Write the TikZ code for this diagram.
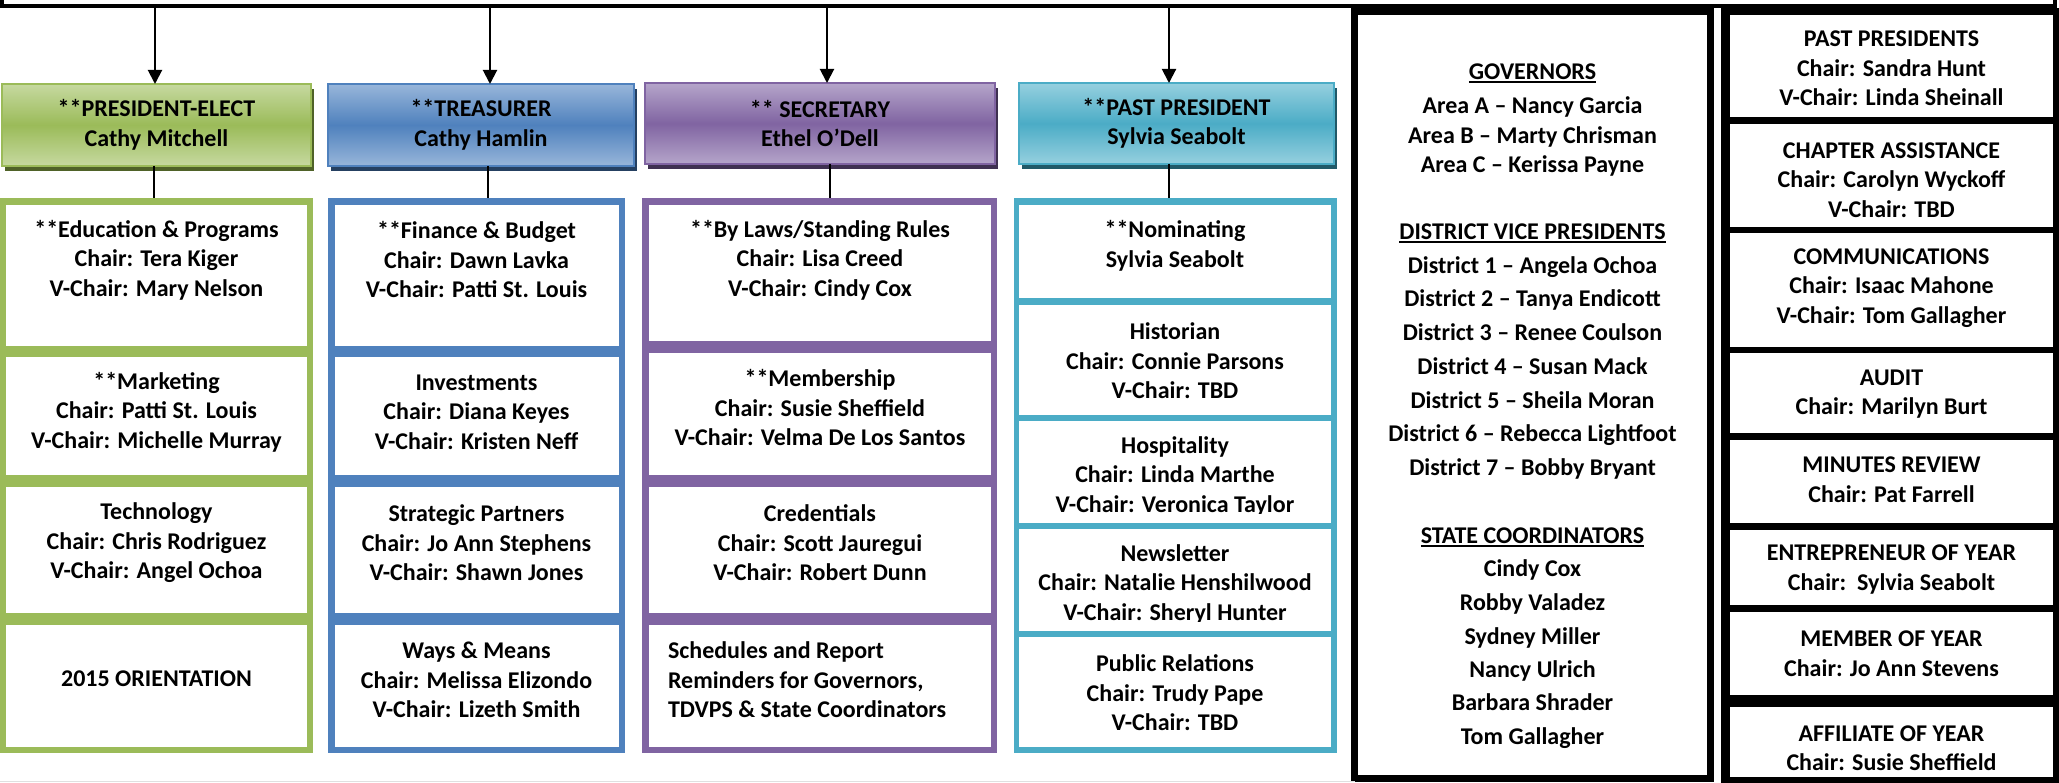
\documentclass[tikz,border=0pt]{standalone}
\usepackage{fontspec}
\setmainfont{Carlito}
\usetikzlibrary{arrows.meta,shadows}
\definecolor{gM}{HTML}{9BBB59}\definecolor{gL}{HTML}{C6D9A0}\definecolor{gD}{HTML}{4F6228}
\definecolor{bM}{HTML}{4F81BD}\definecolor{bL}{HTML}{98B6DA}\definecolor{bD}{HTML}{254061}
\definecolor{pM}{HTML}{8064A2}\definecolor{pL}{HTML}{B5A5CA}\definecolor{pD}{HTML}{3F3151}
\definecolor{tM}{HTML}{4BACC6}\definecolor{tL}{HTML}{96D0DF}\definecolor{tD}{HTML}{215968}
\newcommand\myfont{\bfseries\fontsize{24}{29.5}\selectfont}
\newcommand\myul[1]{\setbox0\hbox{#1}\rlap{\rule[-3.5pt]{\wd0}{1.8pt}}\box0}
\newcommand\mkbox[7]{%
  \pgfmathsetmacro\bcx{(#3+#5)/2}%
  \pgfmathsetmacro\bcy{(#4+#6)/2}%
  \pgfmathsetmacro\bw{#5-#3}%
  \pgfmathsetmacro\bh{#6-#4}%
  \node[#1, minimum width=\bw pt, minimum height=\bh pt] (#2) at (\bcx,\bcy) {#7};}
\begin{document}
\begin{tikzpicture}[x=1pt,y=-1pt,
  base/.style={rectangle, inner sep=0pt, outer sep=0pt},
  toprule/.style={base, draw=black, line width=4pt},
  hdr/.style={base, align=center, line width=1.5pt, font=\myfont},
  hdrG/.style={hdr, draw=gM, top color=gL, bottom color=gL, middle color=gM,
    drop shadow={shadow xshift=3pt, shadow yshift=-5pt, fill=gD, opacity=1}},
  hdrB/.style={hdr, draw=bM, top color=bL, bottom color=bL, middle color=bM,
    drop shadow={shadow xshift=3pt, shadow yshift=-5pt, fill=bD, opacity=1}},
  hdrP/.style={hdr, draw=pM, top color=pL, bottom color=pL, middle color=pM,
    drop shadow={shadow xshift=3pt, shadow yshift=-5pt, fill=pD, opacity=1}},
  hdrT/.style={hdr, draw=tM, top color=tL, bottom color=tL, middle color=tM,
    drop shadow={shadow xshift=3pt, shadow yshift=-5pt, fill=tD, opacity=1}},
  bgG/.style={base, fill=gM}, bgB/.style={base, fill=bM},
  bgP/.style={base, fill=pM}, bgT/.style={base, fill=tM},
  bgK/.style={base, fill=black},
  cell/.style={base, fill=white},
  govbox/.style={base, draw=black, line width=7pt, fill=white},
  txt/.style={base, align=center, font=\myfont},
  ltxt/.style={base, align=left, font=\myfont, anchor=west},
  gl/.style={base, font=\myfont, text height=18pt, text depth=6pt},
  arr/.style={line width=2pt, -{Triangle[length=14pt,width=14pt]}},
  conn/.style={line width=1.5pt}]
\useasboundingbox (0,0) rectangle (2059,783);
\clip (0,0) rectangle (2059,783);

% top box
\mkbox{toprule}{pres}{2}{-40}{2055}{6}{}

% headers
\mkbox{hdrG}{h1}{2}{84}{311}{166}{**PRESIDENT-ELECT\\Cathy Mitchell}
\mkbox{hdrB}{h2}{328}{84}{634}{166}{**TREASURER\\Cathy Hamlin}
\mkbox{hdrP}{h3}{645}{83}{995}{164}{** SECRETARY\\Ethel O’Dell}
\mkbox{hdrT}{h4}{1019}{83}{1334}{164}{**PAST PRESIDENT\\Sylvia Seabolt}

\coordinate (a1) at (155,0);
\coordinate (a2) at (490,0);
\coordinate (a3) at (827,0);
\coordinate (a4) at (1169,0);
\draw[arr] (pres.south -| a1) -- (h1.north -| a1);
\draw[arr] (pres.south -| a2) -- (h2.north -| a2);
\draw[arr] (pres.south -| a3) -- (h3.north -| a3);
\draw[arr] (pres.south -| a4) -- (h4.north -| a4);

% green column
\mkbox{bgG}{colG}{0}{198}{313}{753}{}
\mkbox{cell}{g1}{6}{205}{307}{346}{}
\mkbox{cell}{g2}{6}{357}{307}{475}{}
\mkbox{cell}{g3}{6}{487}{307}{613}{}
\mkbox{cell}{g4}{6}{625}{307}{747}{}
\node[txt] (g1t) at (156.5,260) {**Education \& Programs\\Chair: Tera Kiger\\V-Chair: Mary Nelson};
\node[txt] (g2t) at (156.5,412) {**Marketing\\Chair: Patti St. Louis\\V-Chair: Michelle Murray};
\node[txt] (g3t) at (156.5,543) {Technology\\Chair: Chris Rodriguez\\V-Chair: Angel Ochoa};
\node[txt] (g4t) at (156.5,679) {2015 ORIENTATION};

% blue column
\mkbox{bgB}{colB}{328}{198}{625}{753}{}
\mkbox{cell}{b1}{335}{205}{619}{346}{}
\mkbox{cell}{b2}{335}{357}{619}{475}{}
\mkbox{cell}{b3}{335}{487}{619}{613}{}
\mkbox{cell}{b4}{335}{625}{619}{747}{}
\node[txt] (b1t) at (476.5,260) {**Finance \& Budget\\Chair: Dawn Lavka\\V-Chair: Patti St. Louis};
\node[txt] (b2t) at (476.5,412) {Investments\\Chair: Diana Keyes\\V-Chair: Kristen Neff};
\node[txt] (b3t) at (476.5,543) {Strategic Partners\\Chair: Jo Ann Stephens\\V-Chair: Shawn Jones};
\node[txt] (b4t) at (476.5,680) {Ways \& Means\\Chair: Melissa Elizondo\\V-Chair: Lizeth Smith};

% purple column
\mkbox{bgP}{colP}{642}{198}{997}{753}{}
\mkbox{cell}{p1}{649}{205}{991}{341}{}
\mkbox{cell}{p2}{649}{353}{991}{475}{}
\mkbox{cell}{p3}{649}{487}{991}{613}{}
\mkbox{cell}{p4}{649}{625}{991}{747}{}
\node[txt] (p1t) at (820,260) {**By Laws/Standing Rules\\Chair: Lisa Creed\\V-Chair: Cindy Cox};
\node[txt] (p2t) at (820,408) {**Membership\\Chair: Susie Sheffield\\V-Chair: Velma De Los Santos};
\node[txt] (p3t) at (820,543) {Credentials\\Chair: Scott Jauregui\\V-Chair: Robert Dunn};
\node[ltxt] (p4t) at (668,680) {Schedules and Report\\Reminders for Governors,\\TDVPS \& State Coordinators};

% teal column
\mkbox{bgT}{colT}{1014}{198}{1337}{753}{}
\mkbox{cell}{t1}{1019}{205}{1331}{298}{}
\mkbox{cell}{t2}{1019}{305}{1331}{415}{}
\mkbox{cell}{t3}{1019}{421}{1331}{523}{}
\mkbox{cell}{t4}{1019}{529}{1331}{631}{}
\mkbox{cell}{t5}{1019}{637}{1331}{747}{}
\node[txt] (t1t) at (1175,246) {**Nominating\\Sylvia Seabolt};
\node[txt] (t2t) at (1175,361) {Historian\\Chair: Connie Parsons\\V-Chair: TBD};
\begin{scope}
\clip (1019,421) rectangle (1331,513);
\node[txt] (t3t) at (1175,476) {Hospitality\\Chair: Linda Marthe\\V-Chair: Veronica Taylor};
\end{scope}
\begin{scope}
\clip (1019,529) rectangle (1331,621);
\node[txt] (t4t) at (1175,584) {Newsletter\\Chair: Natalie Henshilwood\\V-Chair: Sheryl Hunter};
\end{scope}
\node[txt] (t5t) at (1175,693) {Public Relations\\Chair: Trudy Pape\\V-Chair: TBD};

% header to column connectors
\coordinate (c1) at (154,0);
\coordinate (c2) at (488,0);
\coordinate (c3) at (830,0);
\coordinate (c4) at (1169,0);
\draw[conn] (h1.south -| c1) -- (colG.north -| c1);
\draw[conn] (h2.south -| c2) -- (colB.north -| c2);
\draw[conn] (h3.south -| c3) -- (colP.north -| c3);
\draw[conn] (h4.south -| c4) -- (colT.north -| c4);

% governors box
\mkbox{govbox}{gov}{1354.5}{11.5}{1710.5}{778.5}{}
\foreach \yy/\gtext [count=\i] in {
  72/{\myul{GOVERNORS}},
  106/{Area A – Nancy Garcia},
  136/{Area B – Marty Chrisman},
  165/{Area C – Kerissa Payne},
  232/{\myul{DISTRICT VICE PRESIDENTS}},
  266/{District 1 – Angela Ochoa},
  299/{District 2 – Tanya Endicott},
  333/{District 3 – Renee Coulson},
  367/{District 4 – Susan Mack},
  401/{District 5 – Sheila Moran},
  434/{District 6 – Rebecca Lightfoot},
  468/{District 7 – Bobby Bryant},
  536/{\myul{STATE COORDINATORS}},
  569/{Cindy Cox},
  603/{Robby Valadez},
  637/{Sydney Miller},
  670/{Nancy Ulrich},
  703/{Barbara Shrader},
  737/{Tom Gallagher}}
  \node[gl] (gv\i) at (1532.5,\yy+1.5) {\gtext};

% right column
\mkbox{bgK}{rcol}{1721}{8}{2059}{783}{}
\mkbox{cell}{r1}{1730}{15}{2053}{117}{}
\mkbox{cell}{r2}{1730}{124}{2053}{227}{}
\mkbox{cell}{r3}{1730}{233}{2053}{347}{}
\mkbox{cell}{r4}{1730}{353}{2053}{433}{}
\mkbox{cell}{r5}{1730}{440}{2053}{523}{}
\mkbox{cell}{r6}{1730}{530}{2053}{605}{}
\mkbox{cell}{r7}{1730}{612}{2053}{695}{}
\mkbox{cell}{r8}{1730}{707}{2053}{777}{}
\node[txt] (r1t) at (1891.5,68.5) {PAST PRESIDENTS\\Chair: Sandra Hunt\\V-Chair: Linda Sheinall};
\node[txt] (r2t) at (1891.5,180) {CHAPTER ASSISTANCE\\Chair: Carolyn Wyckoff\\V-Chair: TBD};
\node[txt] (r3t) at (1891.5,288) {COMMUNICATIONS\\Chair: Isaac Mahone\\V-Chair: Tom Gallagher};
\node[txt] (r4t) at (1891.5,394) {AUDIT\\Chair: Marilyn Burt};
\node[txt] (r5t) at (1891.5,479.5) {MINUTES REVIEW\\Chair: Pat Farrell};
\node[txt] (r6t) at (1891.5,569.5) {ENTREPRENEUR OF YEAR\\Chair:\ \ Sylvia Seabolt};
\node[txt] (r7t) at (1891.5,653.5) {MEMBER OF YEAR\\Chair: Jo Ann Stevens};
\node[txt] (r8t) at (1891.5,748) {AFFILIATE OF YEAR\\Chair: Susie Sheffield};

% faint bottom line
\coordinate (bl) at (0,781.5);
\draw[black!12, line width=1.5pt] (bl) -- (bl -| gov.west);
\end{tikzpicture}
\end{document}
